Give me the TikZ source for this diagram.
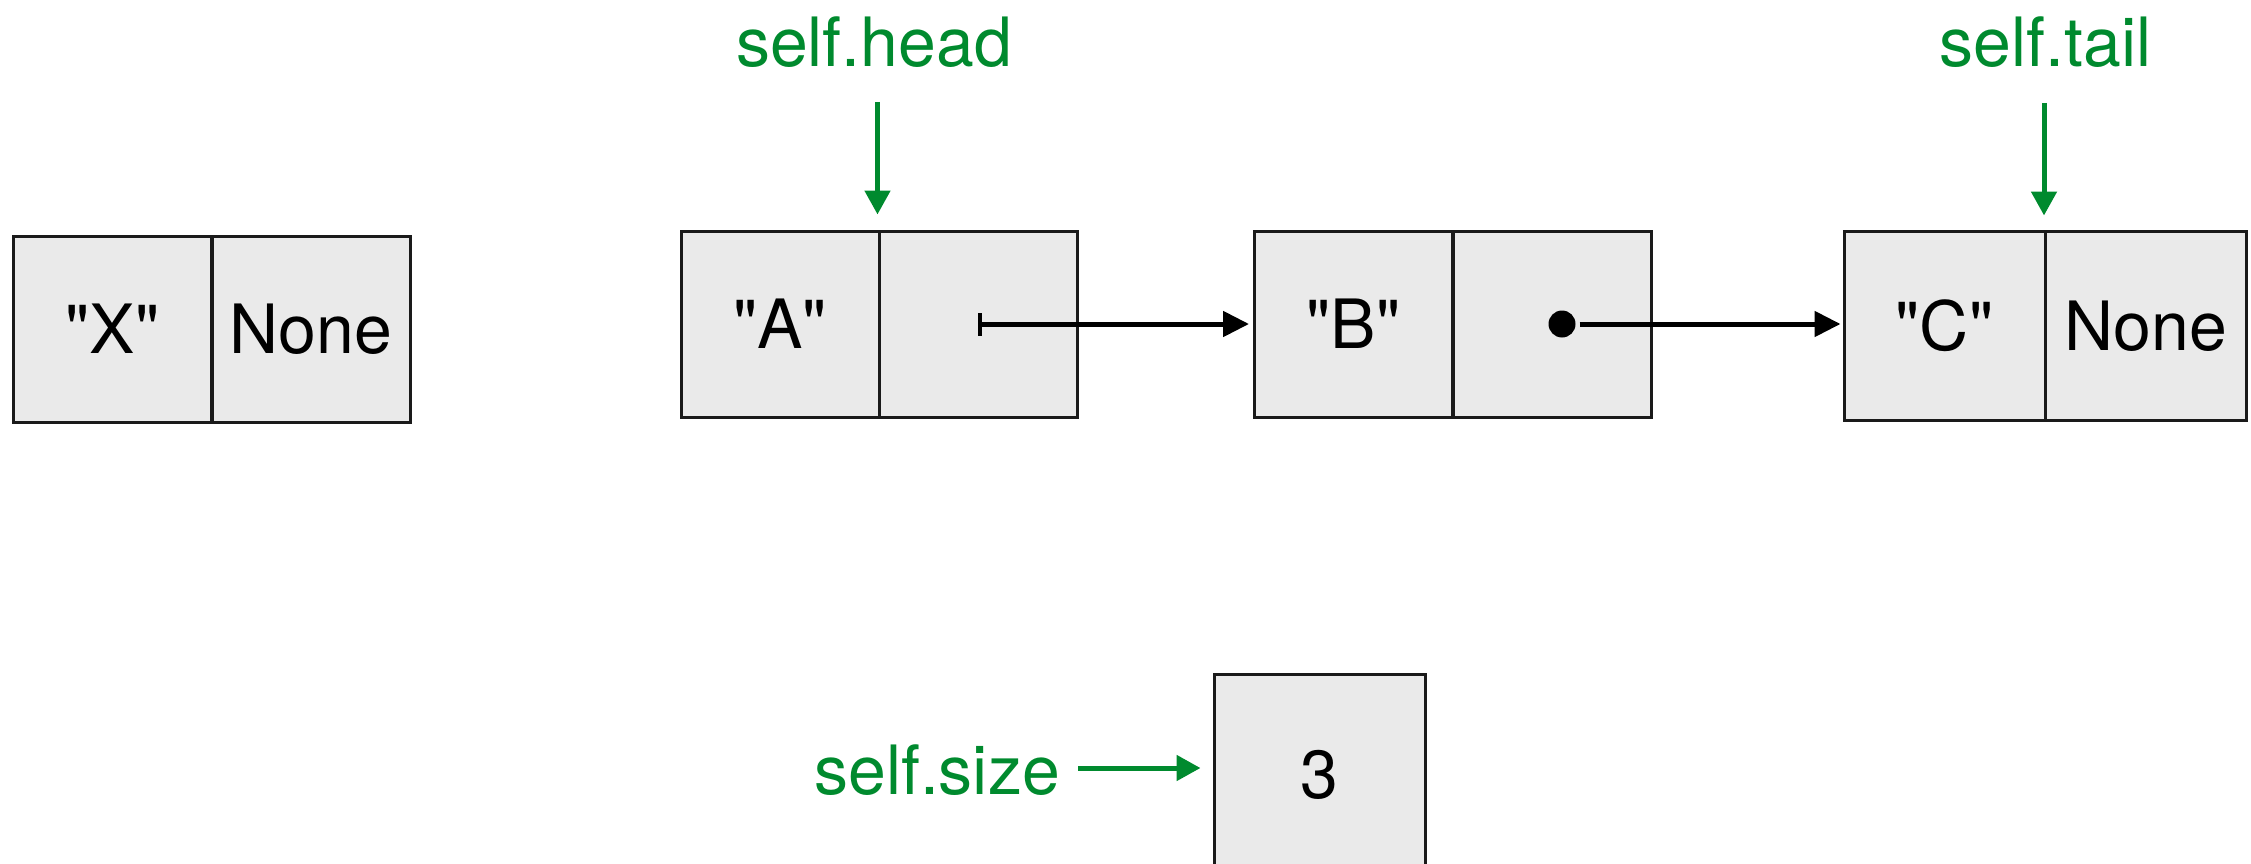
\documentclass[tikz,border=0pt]{standalone}
\usepackage{fontspec}
\setmainfont{TeX Gyre Heros}[Ligatures=TeXOff]
\usetikzlibrary{arrows.meta}
\definecolor{cellgray}{RGB}{234,234,234}
\definecolor{edge}{RGB}{26,26,26}
\definecolor{ptrgreen}{RGB}{0,138,46}

\begin{document}
\begin{tikzpicture}[x=1pt,y=-1pt,
  cell/.style={draw=edge, fill=cellgray, line width=3pt,
    minimum width=198pt, minimum height=186pt, inner sep=0pt,
    text height=49pt, text depth=-6pt, font=\fontsize{68}{80}\selectfont},
  lbl/.style={text=ptrgreen, inner sep=0pt, font=\fontsize{68}{80}\selectfont},
  garrow/.style={draw=ptrgreen, line width=5pt, -{Triangle[length=24pt,width=25pt]}},
  ptr/.style={draw=black, line width=5pt, -{Triangle[length=26pt,width=25pt]}},
]
\useasboundingbox (0,0) rectangle (2251,864);

% detached node
\node[cell] (Xv) at (112.5,329) {"X"};
\node[cell] (Xn) at (311,329) {None};

% the list A -> B -> C
\node[cell] (Av) at (780,324) {"A"};
\node[cell] (An) at (978,324) {};
\node[cell] (Bv) at (1353.5,324) {"B"};
\node[cell] (Bn) at (1552,324) {};
\node[cell, minimum width=201pt, minimum height=189pt] (Cv) at (1944.5,325.5) {"C"};
\node[cell, minimum width=201pt, minimum height=189pt] (Cn) at (2146,325.5) {None};

% size counter (runs off the lower edge)
\node[cell, minimum width=211pt, minimum height=200pt, text depth=-12pt] (sz) at (1319.5,774) {3};

% attribute labels
\node[lbl, anchor=base] (hd) at (874,67) {self.head};
\node[lbl, anchor=base] (tl) at (2045.5,67) {self.tail};
\node[lbl, anchor=base east] (sl) at (1060,794) {self.size};

\draw[garrow, shorten <=35pt, shorten >=15pt] (hd.base -| An.north west) -- (An.north west);
\draw[garrow, shorten <=36pt, shorten >=14pt] (tl.base -| Cn.north west) -- (Cn.north west);
\draw[garrow, shorten <=18pt, shorten >=12pt] ([yshift=6pt]sl.east |- sz.west) -- ([yshift=6pt]sz.west);

% next pointers
\draw[ptr, {Bar[width=23pt,line width=4pt]}-{Triangle[length=26pt,width=25pt]}, shorten >=4pt]
  (An.center) -- (Bv.west);
\node[circle, fill=black, minimum size=27pt, inner sep=0pt] (dt) at ([xshift=10pt]Bn.center) {};
\draw[ptr, shorten <=4pt, shorten >=2pt] (dt.east) -- (dt.east -| Cv.west);
\end{tikzpicture}
\end{document}
